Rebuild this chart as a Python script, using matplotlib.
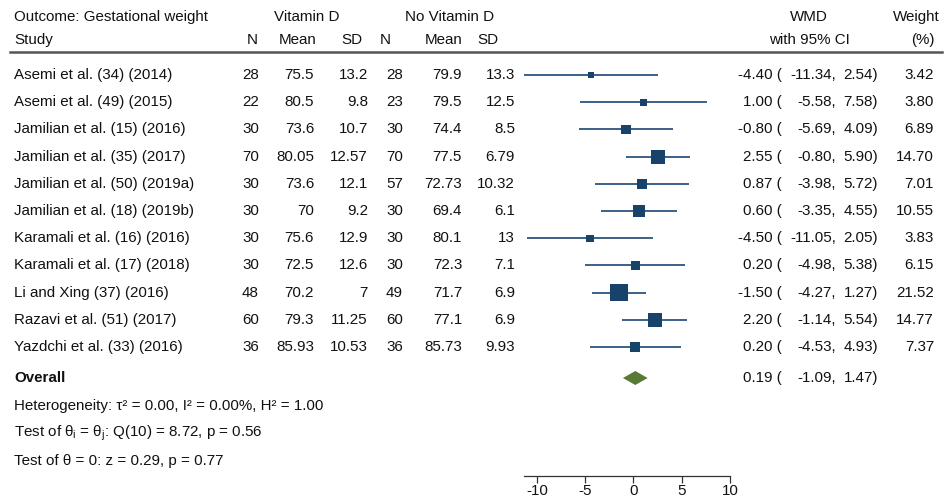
import matplotlib.pyplot as plt
from matplotlib.patches import Polygon

plt.rcParams['font.family'] = ['Liberation Sans', 'DejaVu Sans']

# ---------------- Dados ----------------
estudos = ["Asemi et al. (34) (2014)", "Asemi et al. (49) (2015)",
           "Jamilian et al. (15) (2016)", "Jamilian et al. (35) (2017)",
           "Jamilian et al. (50) (2019a)", "Jamilian et al. (18) (2019b)",
           "Karamali et al. (16) (2016)", "Karamali et al. (17) (2018)",
           "Li and Xing (37) (2016)", "Razavi et al. (51) (2017)",
           "Yazdchi et al. (33) (2016)"]
n_vit = [28, 22, 30, 70, 30, 30, 30, 30, 48, 60, 36]
media_vit = [75.5, 80.5, 73.6, 80.05, 73.6, 70, 75.6, 72.5, 70.2, 79.3, 85.93]
dp_vit = [13.2, 9.8, 10.7, 12.57, 12.1, 9.2, 12.9, 12.6, 7, 11.25, 10.53]
n_ctl = [28, 23, 30, 70, 57, 30, 30, 30, 49, 60, 36]
media_ctl = [79.9, 79.5, 74.4, 77.5, 72.73, 69.4, 80.1, 72.3, 71.7, 77.1, 85.73]
dp_ctl = [13.3, 12.5, 8.5, 6.79, 10.32, 6.1, 13, 7.1, 6.9, 6.9, 9.93]
wmd = [-4.40, 1.00, -0.80, 2.55, 0.87, 0.60, -4.50, 0.20, -1.50, 2.20, 0.20]
ic_inf = [-11.34, -5.58, -5.69, -0.80, -3.98, -3.35, -11.05, -4.98, -4.27, -1.14, -4.53]
ic_sup = [2.54, 7.58, 4.09, 5.90, 5.72, 4.55, 2.05, 5.38, 1.27, 5.54, 4.93]
peso = [3.42, 3.80, 6.89, 14.70, 7.01, 10.55, 3.83, 6.15, 21.52, 14.77, 7.37]

overall = 0.19
overall_inf = -1.09
overall_sup = 1.47

ticks = [-10, -5, 0, 5, 10]

# ---------------- Layout (pixels) ----------------
W, H = 944, 500
FS = 10.9
COR_TXT = "#111111"
COR_QUAD = "#17436b"
COR_LINHA = "#3b6188"
COR_DIAM = "#587a35"

fig = plt.figure(figsize=(W / 100, H / 100), dpi=100)


def txt(x, y, s, ha="left", **kw):
    fig.text(x / W, 1 - y / H, s, ha=ha, va="center", fontsize=FS,
             color=COR_TXT, **kw)


def linha_y(i):
    return 75 + i * 27.2


def texto_ic(y, est, inf, sup):
    txt(782, y, f"{est:.2f} (", ha="right")
    txt(836, y, f"{inf:.2f},", ha="right")
    txt(878, y, f"{sup:.2f})", ha="right")


# eixo do forest plot
X0, X1 = 524, 730
Y_TOP, Y_AX = 55, 476
ax = fig.add_axes([X0 / W, 1 - Y_AX / H, (X1 - X0) / W, (Y_AX - Y_TOP) / H])
ax.set_xlim(min(ic_inf), 10)
ax.set_ylim(Y_AX, Y_TOP)
ax.patch.set_alpha(0)
for s in ["top", "right", "left"]:
    ax.spines[s].set_visible(False)
ax.spines["bottom"].set_color("#333333")
ax.spines["bottom"].set_linewidth(0.9)
ax.set_yticks([])
ax.set_xticks(ticks)
ax.set_xticklabels([str(t) for t in ticks])
ax.tick_params(axis="x", length=5, width=0.9, color="#333333",
               labelsize=FS, labelcolor=COR_TXT, pad=1)

# ---------------- Cabeçalho ----------------
txt(14, 17, "Outcome: Gestational weight")
txt(14, 40, "Study")
txt(307, 17, "Vitamin D", ha="center")
txt(450, 17, "No Vitamin D", ha="center")
txt(258, 40, "N", ha="right")
txt(316, 40, "Mean", ha="right")
txt(362, 40, "SD", ha="right")
txt(391, 40, "N", ha="right")
txt(462, 40, "Mean", ha="right")
txt(498, 40, "SD", ha="right")
txt(809, 17, "WMD", ha="center")
txt(809, 40, "with 95% CI", ha="center")
txt(916, 17, "Weight", ha="center")
txt(923, 40, "(%)", ha="center")
fig.add_artist(plt.Line2D([10 / W, 942 / W], [1 - 52 / H, 1 - 52 / H],
                          color="#555555", linewidth=1.8))

# ---------------- Linhas dos estudos ----------------
for i, nome in enumerate(estudos):
    y = linha_y(i)
    txt(14, y, nome)
    txt(259, y, f"{n_vit[i]:g}", ha="right")
    txt(314, y, f"{media_vit[i]:g}", ha="right")
    txt(368, y, f"{dp_vit[i]:g}", ha="right")
    txt(403, y, f"{n_ctl[i]:g}", ha="right")
    txt(462, y, f"{media_ctl[i]:g}", ha="right")
    txt(515, y, f"{dp_ctl[i]:g}", ha="right")
    texto_ic(y, wmd[i], ic_inf[i], ic_sup[i])
    txt(934, y, f"{peso[i]:.2f}", ha="right")

    ax.plot([ic_inf[i], ic_sup[i]], [y, y], color=COR_LINHA, linewidth=1.4,
            solid_capstyle="butt", clip_on=False, zorder=2)
    ax.scatter([wmd[i]], [y], marker="s", s=7.1 * peso[i], color=COR_QUAD,
               edgecolors="none", clip_on=False, zorder=3)

# ---------------- Overall ----------------
y_ov = 378
txt(14, y_ov, "Overall", fontweight="bold")
diam = Polygon([[overall_inf, y_ov], [overall, y_ov - 7],
                [overall_sup, y_ov], [overall, y_ov + 7]],
               closed=True, facecolor=COR_DIAM, edgecolor="none",
               clip_on=False)
ax.add_patch(diam)
texto_ic(y_ov, overall, overall_inf, overall_sup)

txt(14, 406, "Heterogeneity: τ² = 0.00, I² = 0.00%, H² = 1.00")
txt(14, 433, r"Test of $\mathregular{θ_i}$ = $\mathregular{θ_j}$: Q(10) = 8.72, p = 0.56")
txt(14, 461, "Test of θ = 0: z = 0.29, p = 0.77")

fig.savefig("out.png", dpi=100)
